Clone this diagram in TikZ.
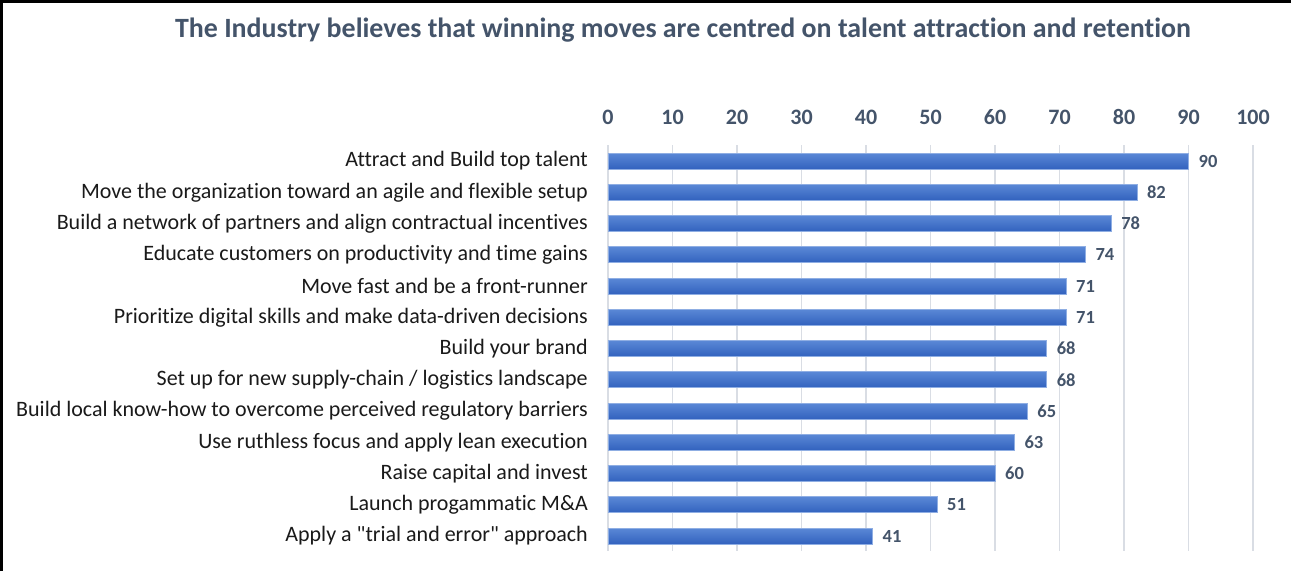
\documentclass[tikz,border=0pt]{standalone}
\usepackage{fontspec}
\setmainfont{Carlito}[Ligatures={TeX,NoCommon}]
\newfontfamily\plainfont{Carlito}[Ligatures=NoCommon]
\definecolor{slate}{HTML}{44546A}
\definecolor{gridc}{HTML}{D9DDE4}
\definecolor{bartop}{HTML}{5A88D6}
\definecolor{barbot}{HTML}{3262BE}
\definecolor{barline}{HTML}{8FAEE3}
\definecolor{cattext}{HTML}{1A1A1A}
\tikzset{
  titlesty/.style={font=\fontsize{27.9}{32}\selectfont\bfseries, text=slate, inner sep=0pt},
  ticksty/.style={font=\fontsize{22}{26}\selectfont\bfseries, text=slate, inner sep=0pt},
  gridsty/.style={draw=gridc, line width=1.6pt},
  barsty/.style={top color=bartop, bottom color=barbot, draw=barline, line width=0.6pt, inner sep=0pt, outer sep=0pt, minimum height=16pt},
  valsty/.style={font=\fontsize{18.5}{22}\selectfont\bfseries, text=slate, inner sep=0pt, anchor=west},
  catsty/.style={font=\plainfont\fontsize{22}{26}\selectfont, text=cattext, inner sep=0pt, anchor=east}
}
\begin{document}
\begin{tikzpicture}[x=1pt,y=-1pt]
\useasboundingbox (0,0) rectangle (1291,571);
\fill[white] (0,0) rectangle (1291,571);
\draw[line width=2.6pt] (1.3,571) -- (1.3,1.3) -- (1291,1.3);
\node[titlesty] (title) at (683,30) {The Industry believes that winning moves are centred on talent attraction and retention};
\foreach \i in {0,...,10} {
  \coordinate (gt\i) at ({608+64.5*\i},145);
  \coordinate (gb\i) at ({608+64.5*\i},551);
  \draw[gridsty] (gt\i) -- (gb\i);
  \node[ticksty] (tick\i) at ({608+64.5*\i},117) {\pgfmathparse{int(10*\i)}\pgfmathresult};
}
\foreach \v/\t [count=\k] in {
  90/{Attract and Build top talent},
  82/{Move the organization toward an agile and flexible setup},
  78/{Build a network of partners and align contractual incentives},
  74/{Educate customers on productivity and time gains},
  71/{Move fast and be a front-runner},
  71/{Prioritize digital skills and make data-driven decisions},
  68/{Build your brand},
  68/{Set up for new supply-chain / logistics landscape},
  65/{Build local know-how to overcome perceived regulatory barriers},
  63/{Use ruthless focus and apply lean execution},
  60/{Raise capital and invest},
  51/{Launch progammatic M\&A},
  41/{Apply a "trial and error" approach}} {
  \pgfmathsetmacro\yc{161+31.25*(\k-1)}
  \pgfmathsetmacro\bw{6.45*\v}
  \node[barsty, anchor=west, minimum width=\bw pt] (bar\k) at (608,\yc) {};
  \node[valsty] (val\k) at ([xshift=10pt]bar\k.east) {\v};
  \node[catsty] (cat\k) at (588,\yc) {\t};
}
\end{tikzpicture}
\end{document}
